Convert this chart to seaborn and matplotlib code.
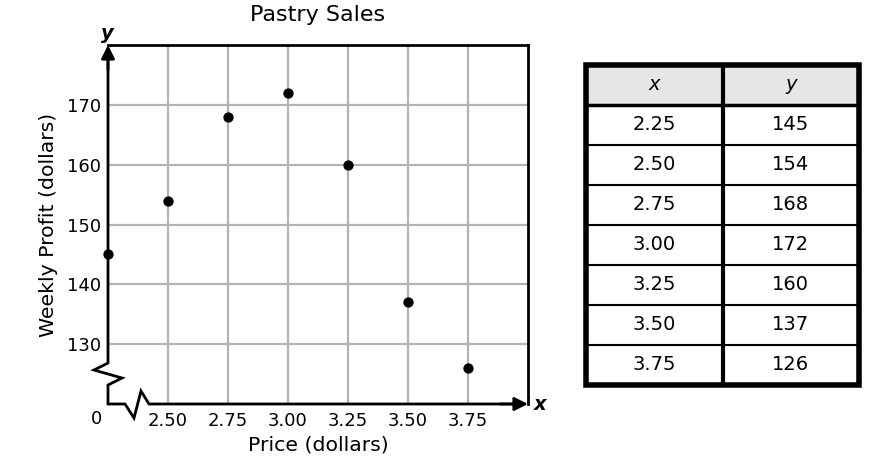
import numpy as np
import matplotlib
matplotlib.use("Agg")
import matplotlib.pyplot as plt
import seaborn as sns
from matplotlib.patches import Rectangle

# datos
price = [2.25, 2.50, 2.75, 3.00, 3.25, 3.50, 3.75]
profit = [145, 154, 168, 172, 160, 137, 126]
x_ticks = [2.50, 2.75, 3.00, 3.25, 3.50, 3.75]
y_ticks = [130, 140, 150, 160, 170]
col_headers = ["x", "y"]

sns.set_style("white")
plt.rcParams["font.family"] = ["DejaVu Sans"]
plt.rcParams["text.color"] = "black"
plt.rcParams["axes.labelcolor"] = "black"

W, H = 883, 472
fig = plt.figure(figsize=(W / 100, H / 100), dpi=100)

# grafico principal (en pixeles del lienzo)
L, T, R, B = 108, 45, 528, 404
ax = fig.add_axes([L / W, (H - B) / H, (R - L) / W, (B - T) / H])

sns.scatterplot(x=price, y=profit, ax=ax, color="black", s=55,
                edgecolor="black", linewidth=0, zorder=5, clip_on=False)

ax.set_xlim(2.25, 4.0)
ax.set_ylim(120, 180)
ax.set_xticks(x_ticks)
ax.set_xticklabels([f"{v:.2f}" for v in x_ticks])
ax.set_yticks(y_ticks)
ax.tick_params(length=0, labelsize=13, colors="black")
ax.tick_params(axis="y", pad=5)
ax.tick_params(axis="x", pad=6)
ax.grid(True, color="#b3b3b3", linewidth=1.6)
ax.set_axisbelow(True)

for lado in ["left", "bottom"]:
    ax.spines[lado].set_visible(False)
for lado in ["top", "right"]:
    ax.spines[lado].set_color("black")
    ax.spines[lado].set_linewidth(2)


def px(xp, yp):
    return ((xp - L) / (R - L), (B - yp) / (B - T))


# eje y con corte
izq = [px(108, 50), px(108, 363), px(94, 370), px(122, 378), px(108, 385), px(108, 404)]
ax.plot(*zip(*izq), transform=ax.transAxes, color="black", lw=2,
        clip_on=False, solid_joinstyle="miter", zorder=6)
# eje x con corte
abajo = [px(108, 404), px(125, 404), px(134, 418), px(141, 391), px(149, 404), px(520, 404)]
ax.plot(*zip(*abajo), transform=ax.transAxes, color="black", lw=2,
        clip_on=False, solid_joinstyle="miter", zorder=6)

flecha = dict(arrowstyle="-|>", mutation_scale=20, lw=2, color="black",
              shrinkA=0, shrinkB=0)
ax.annotate("", xy=(0, 1), xytext=px(108, 70), xycoords="axes fraction",
            textcoords="axes fraction", arrowprops=flecha, zorder=7)
ax.annotate("", xy=(1, 0), xytext=px(500, 404), xycoords="axes fraction",
            textcoords="axes fraction", arrowprops=flecha, zorder=7)

ax.text(*px(107, 33), "y", transform=ax.transAxes, fontsize=14,
        fontweight="bold", fontstyle="italic", ha="center", va="center")
ax.text(*px(540, 404), "x", transform=ax.transAxes, fontsize=14,
        fontweight="bold", fontstyle="italic", ha="center", va="center")
ax.text(*px(97, 419), "0", transform=ax.transAxes, fontsize=13,
        ha="center", va="center")

ax.set_title("Pastry Sales", fontsize=16, pad=17)
ax.set_xlabel("Price (dollars)", fontsize=14.7, labelpad=4)
ax.set_ylabel("Weekly Profit (dollars)", fontsize=14.7, labelpad=6.5)

# tabla
TL, TT, TR, TB = 586, 65, 859, 385
tx = fig.add_axes([TL / W, (H - TB) / H, (TR - TL) / W, (TB - TT) / H])
n = len(price) + 1
tx.set_xlim(0, 2)
tx.set_ylim(n, 0)
tx.axis("off")

tx.add_patch(Rectangle((0, 0), 2, 1, facecolor="#e6e6e6", edgecolor="none"))
for j, h in enumerate(col_headers):
    tx.text(j + 0.5, 0.5, h, fontsize=14, fontstyle="italic",
            ha="center", va="center")
for i, (a, b) in enumerate(zip(price, profit)):
    tx.text(0.5, i + 1.5, f"{a:.2f}", fontsize=14, ha="center", va="center")
    tx.text(1.5, i + 1.5, f"{b}", fontsize=14, ha="center", va="center")

for i in range(1, n):
    tx.plot([0, 2], [i, i], color="black", lw=2.5 if i == 1 else 1.5, clip_on=False)
tx.plot([1, 1], [0, n], color="black", lw=3, clip_on=False)
tx.add_patch(Rectangle((0, 0), 2, n, facecolor="none", edgecolor="black",
                       lw=4, clip_on=False))

fig.savefig("out.png", dpi=100)
